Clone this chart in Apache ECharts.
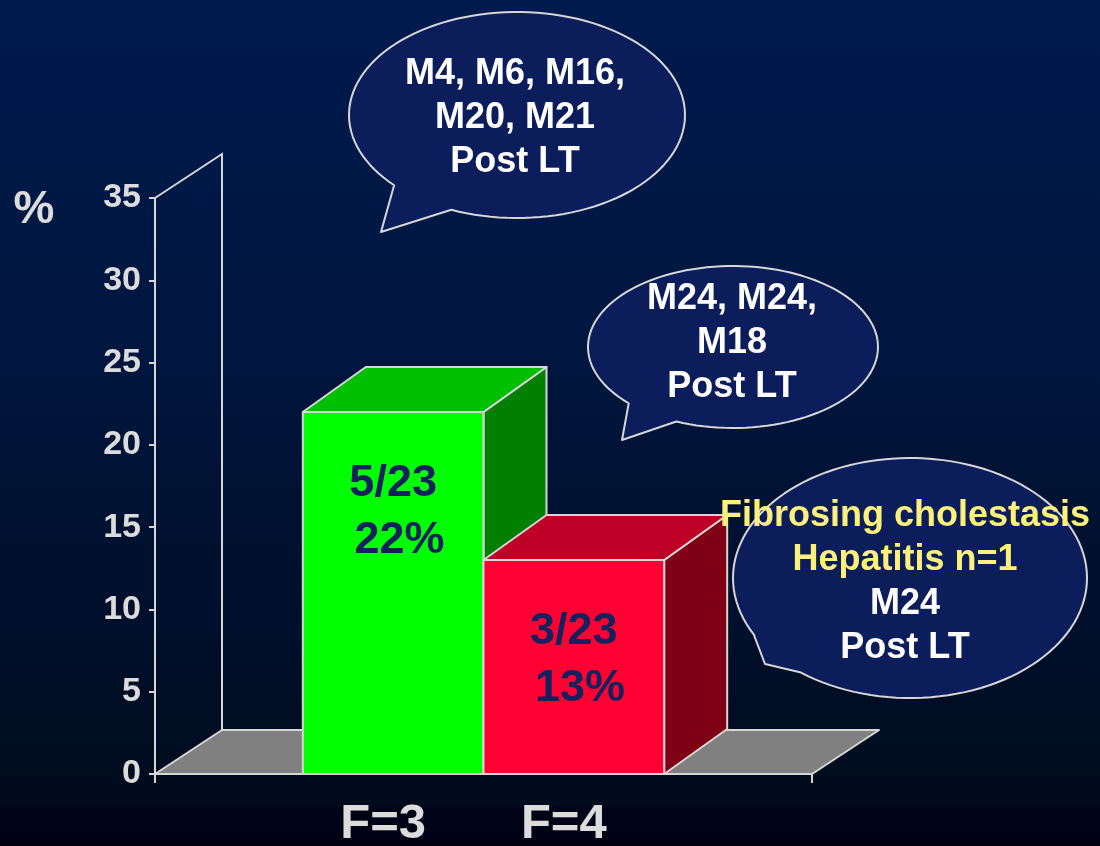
<!DOCTYPE html>
<html>
<head>
<meta charset="utf-8">
<title>Fibrosis stage</title>
<script src="https://cdn.jsdelivr.net/npm/echarts@6/dist/echarts.min.js"></script>
<style>
  html, body { margin: 0; padding: 0; background: #000014; }
  #chart { width: 1100px; height: 846px; }
</style>
</head>
<body>
<div id="chart"></div>
<script>
// ---- data ----
const groups = ['F=3', 'F=4'];          // fibrosis stage groups
const counts = [5, 3];                  // patients per group
const total = 23;                       // cohort size
const percents = [22, 13];              // share of the cohort, %
const yMin = 0, yMax = 35, yStep = 5;   // value axis, %
const noteF3 = ['M4, M6, M16,', 'M20, M21', 'Post LT'];
const noteF4 = ['M24, M24,', 'M18', 'Post LT'];
const noteFCH = ['Fibrosing cholestasis', 'Hepatitis n=1'];
const noteFCHTime = ['M24', 'Post LT'];

// ---- styling ----
const FONT = '"Liberation Sans", Arial, Helvetica, sans-serif';
const EDGE = '#D6D6D6';
const AXIS_TEXT = '#DCDCDC';
const LABEL_NAVY = '#13225F';
const BUBBLE_FILL = '#0B1D5A';
const YELLOW = '#FFF07C';
const BAR_FRAC = 0.275;          // bar width as a share of the category band
const BAR_DEPTH = [63, -45];     // 3D depth offset of the bars (px)
const FLOOR_DEPTH = [67, -44];   // 3D depth offset of floor and wall (px)
const barColors = [
  { front: '#00FF00', top: '#00BF00', side: '#007F00' },
  { front: '#FF0033', top: '#BF0026', side: '#800016' }
];

// floor plane and back wall of the 3D box
function renderFloor(params, api) {
  const cs = params.coordSys;
  const y0 = api.coord([0, yMin])[1];
  const yTop = api.coord([0, yMax])[1];
  const xl = cs.x, xr = cs.x + cs.width;
  const dx = FLOOR_DEPTH[0], dy = FLOOR_DEPTH[1];
  return {
    type: 'group',
    children: [
      {
        type: 'polygon',
        shape: { points: [[xl, y0], [xl + dx, y0 + dy], [xr + dx, y0 + dy], [xr, y0]] },
        style: { fill: '#808080', stroke: EDGE, lineWidth: 2, lineJoin: 'round' }
      },
      {
        type: 'polyline',
        shape: { points: [[xl, yTop], [xl + dx, yTop + dy], [xl + dx, y0 + dy]] },
        style: { fill: null, stroke: EDGE, lineWidth: 2 }
      }
    ]
  };
}

// one 3D column per group, side by side inside the single category band
function renderBar(params, api) {
  const i = api.value(2);
  const v = api.value(1);
  const base = api.coord([0, yMin]);
  const topPt = api.coord([0, v]);
  const band = api.size([1, 0])[0];
  const w = band * BAR_FRAC;
  const x0 = base[0] - w + i * w;
  const x1 = x0 + w;
  const yb = base[1], yt = topPt[1];
  const dx = BAR_DEPTH[0], dy = BAR_DEPTH[1];
  const c = barColors[i];
  const edge = { stroke: EDGE, lineWidth: 2, lineJoin: 'round' };
  const cx = (x0 + x1) / 2;
  return {
    type: 'group',
    children: [
      {
        type: 'polygon',
        shape: { points: [[x1, yt], [x1 + dx, yt + dy], [x1 + dx, yb + dy], [x1, yb]] },
        style: Object.assign({ fill: c.side }, edge)
      },
      {
        type: 'polygon',
        shape: { points: [[x0, yt], [x0 + dx, yt + dy], [x1 + dx, yt + dy], [x1, yt]] },
        style: Object.assign({ fill: c.top }, edge)
      },
      {
        type: 'rect',
        shape: { x: x0, y: yt, width: w, height: yb - yt },
        style: Object.assign({ fill: c.front }, edge)
      },
      {
        type: 'text',
        style: {
          text: counts[i] + '/' + total + '\n ' + percents[i] + '%',
          x: cx, y: yt + 100,
          align: 'center', verticalAlign: 'middle',
          fontFamily: FONT, fontWeight: 'bold', fontSize: 45, lineHeight: 57,
          fill: LABEL_NAVY
        }
      },
      {
        type: 'text',
        style: {
          text: groups[i],
          x: cx - 10, y: yb + 50,
          align: 'center', verticalAlign: 'middle',
          fontFamily: FONT, fontWeight: 'bold', fontSize: 49,
          fill: AXIS_TEXT
        }
      }
    ]
  };
}

// speech bubble outline: ellipse sampled as a polygon, with a pointed tail
function bubblePoints(b) {
  const pts = [];
  const start = b.a2, end = b.a1 - 360;   // walk the long way round
  const steps = 120;
  for (let k = 0; k <= steps; k++) {
    const a = (start + (end - start) * k / steps) * Math.PI / 180;
    pts.push([b.cx + b.rx * Math.cos(a), b.cy + b.ry * Math.sin(a)]);
  }
  pts.push(b.tip);
  return pts;
}

const bubbles = [
  { cx: 517, cy: 115, rx: 168, ry: 103, a1: 137, a2: 113, tip: [381, 232] },
  { cx: 733, cy: 347, rx: 145, ry: 81, a1: 136, a2: 113, tip: [622, 440] },
  { cx: 910, cy: 578, rx: 177, ry: 120, a1: 152, a2: 128, tip: [765, 664] }
];

function bubbleShape(b) {
  return {
    type: 'polygon', z: 100,
    shape: { points: bubblePoints(b) },
    style: { fill: BUBBLE_FILL, stroke: EDGE, lineWidth: 2, lineJoin: 'round' }
  };
}

function bubbleText(lines, x, y) {
  return {
    type: 'text', z: 101,
    style: {
      text: lines.join('\n'), x: x, y: y,
      align: 'center', verticalAlign: 'middle',
      fontFamily: FONT, fontWeight: 'bold', fontSize: 36, lineHeight: 44,
      fill: '#FFFFFF'
    }
  };
}

const chart = echarts.init(document.getElementById('chart'), null, { renderer: 'canvas' });

chart.setOption({
  animation: false,
  backgroundColor: {
    type: 'linear', x: 0, y: 0, x2: 0, y2: 1,
    colorStops: [
      { offset: 0, color: '#001A4E' },
      { offset: 0.4, color: '#00163F' },
      { offset: 0.75, color: '#000F2A' },
      { offset: 0.953, color: '#000B1C' },
      { offset: 0.955, color: '#000419' },
      { offset: 1, color: '#000012' }
    ]
  },
  grid: { left: 155, right: 288, top: 198, bottom: 72, containLabel: false },
  xAxis: {
    type: 'category',
    data: ['Fibrosis'],
    axisLine: { show: true, lineStyle: { color: EDGE, width: 2 } },
    axisTick: { show: true, length: 9, lineStyle: { color: EDGE, width: 2 } },
    axisLabel: { show: false },
    splitLine: { show: false }
  },
  yAxis: {
    type: 'value',
    min: yMin, max: yMax, interval: yStep,
    axisLine: { show: true, lineStyle: { color: EDGE, width: 2 } },
    axisTick: { show: true, length: 6, lineStyle: { color: EDGE, width: 2 } },
    axisLabel: {
      color: AXIS_TEXT, fontFamily: FONT, fontWeight: 'bold', fontSize: 34,
      margin: 14, padding: [12, 0, 0, 0]
    },
    splitLine: { show: false }
  },
  series: [
    {
      type: 'custom',
      name: 'floor',
      renderItem: renderFloor,
      clip: false,
      silent: true,
      data: [[0, yMin]]
    },
    {
      type: 'custom',
      name: 'share',
      renderItem: renderBar,
      clip: false,
      encode: { x: 0, y: 1 },
      data: percents.map((p, i) => [0, p, i])
    }
  ],
  graphic: [
    {
      type: 'text', z: 100,
      style: {
        text: '%', x: 34, y: 210, align: 'center', verticalAlign: 'middle',
        fontFamily: FONT, fontWeight: 'bold', fontSize: 46, fill: AXIS_TEXT
      }
    },
    bubbleShape(bubbles[0]),
    bubbleText(noteF3, 515, 118),
    bubbleShape(bubbles[1]),
    bubbleText(noteF4, 732, 343),
    bubbleShape(bubbles[2]),
    {
      type: 'text', z: 101,
      style: {
        text: '{y|' + noteFCH.join('}\n{y|') + '}\n{w|' + noteFCHTime.join('}\n{w|') + '}',
        x: 905, y: 582,
        align: 'center', verticalAlign: 'middle',
        fontFamily: FONT, fontWeight: 'bold', fontSize: 36, lineHeight: 44,
        rich: {
          y: { fill: YELLOW, fontFamily: FONT, fontWeight: 'bold', fontSize: 36, lineHeight: 44 },
          w: { fill: '#FFFFFF', fontFamily: FONT, fontWeight: 'bold', fontSize: 36, lineHeight: 44 }
        }
      }
    }
  ]
});
</script>
</body>
</html>
